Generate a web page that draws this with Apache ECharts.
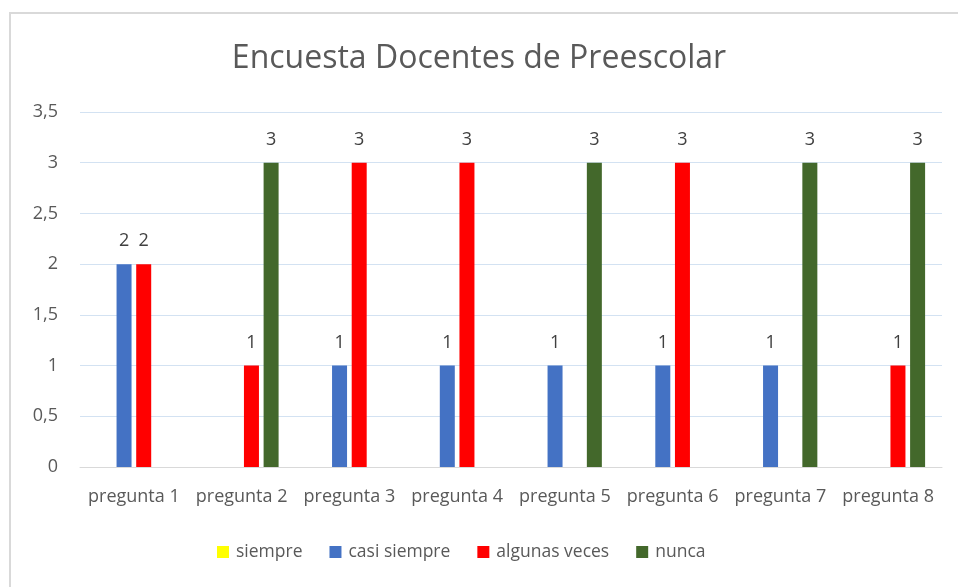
<!DOCTYPE html>
<html>
<head>
<meta charset="utf-8">
<script src="https://cdn.jsdelivr.net/npm/echarts@6/dist/echarts.min.js"></script>
<style>html,body{margin:0;padding:0;background:#fff}#c{width:958px;height:587px}</style>
</head>
<body>
<div id="c"></div>
<script>
const categories = ['pregunta 1','pregunta 2','pregunta 3','pregunta 4','pregunta 5','pregunta 6','pregunta 7','pregunta 8'];
const seriesNames = ['siempre','casi siempre','algunas veces','nunca'];
const siempre = ['-','-','-','-','-','-','-','-'];
const casiSiempre = [2,'-',1,1,1,1,1,'-'];
const algunasVeces = [2,1,3,3,'-',3,'-',1];
const nunca = ['-',3,'-','-',3,'-',3,3];
const colors = ['#FFFF00','#4472C4','#FF0000','#43682B'];
const seriesData = [siempre, casiSiempre, algunasVeces, nunca];

const FONT = '"Open Sans", sans-serif';
const chart = echarts.init(document.getElementById('c'));
chart.setOption({
  animation: false,
  backgroundColor: '#fff',
  graphic: [{
    type: 'rect', shape: {x: 10, y: 13, width: 960, height: 600},
    style: {fill: 'none', stroke: '#d9d9d9', lineWidth: 2}, silent: true
  }],
  title: {
    text: 'Encuesta Docentes de Preescolar',
    left: 'center', top: 38,
    textStyle: {fontFamily: FONT, fontSize: 32, fontWeight: 'normal', color: '#595959'}
  },
  legend: {
    bottom: 21, left: 212,
    itemWidth: 12, itemHeight: 12, itemGap: 27,
    icon: 'rect',
    textStyle: {fontFamily: FONT, fontSize: 17.5, color: '#595959', padding: [0,0,0,2]},
    data: seriesNames
  },
  grid: {left: 80, right: 16, top: 112, bottom: 120, containLabel: false},
  xAxis: {
    type: 'category', data: categories,
    axisLine: {lineStyle: {color: '#d9d9d9', width: 1}},
    axisTick: {show: false},
    axisLabel: {fontFamily: FONT, fontSize: 18, color: '#595959', margin: 21, interval: 0}
  },
  yAxis: {
    type: 'value', min: 0, max: 3.5, interval: 0.5,
    axisLine: {show: false}, axisTick: {show: false},
    splitLine: {lineStyle: {color: '#d3e2f2', width: 1}},
    axisLabel: {fontFamily: FONT, fontSize: 18, color: '#595959', margin: 22,
      formatter: v => String(v).replace('.', ',')}
  },
  series: seriesNames.map((n, i) => ({
    name: n, type: 'bar', data: seriesData[i],
    barWidth: 15, barGap: '31%',
    itemStyle: {color: colors[i]},
    label: {show: true, position: 'top', distance: 14,
      fontFamily: FONT, fontSize: 18, color: '#404040'}
  }))
});
</script>
</body>
</html>
